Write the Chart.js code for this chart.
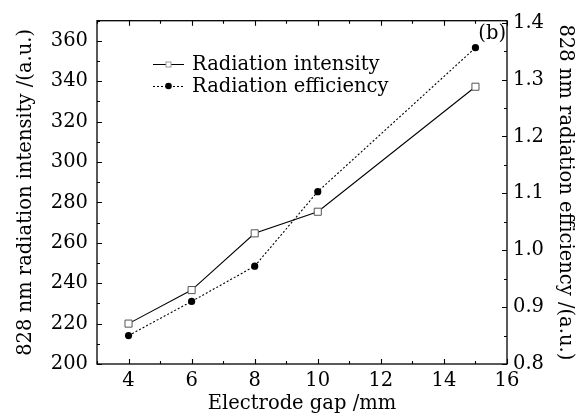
<!DOCTYPE html>
<html>
<head>
<meta charset="utf-8">
<script src="https://cdn.jsdelivr.net/npm/chart.js@4/dist/chart.umd.min.js"></script>
<style>
  html, body { margin: 0; padding: 0; background: #fff; }
  #wrap { width: 581px; height: 416px; position: relative; }
</style>
</head>
<body>
<div id="wrap"><canvas id="c" width="581" height="416"></canvas></div>
<script>
const gaps = [4, 6, 8, 10, 15];
const intensity = [220, 236.6, 264.7, 275.4, 337.3];
const efficiency = [0.850, 0.910, 0.972, 1.103, 1.356];
const seriesNames = ['Radiation intensity', 'Radiation efficiency'];
const xTickValues = [4, 6, 8, 10, 12, 14, 16];
const yLeftTickValues = [200, 220, 240, 260, 280, 300, 320, 340, 360];
const yRightTickValues = [0.8, 0.9, 1.0, 1.1, 1.2, 1.3, 1.4];
const xTitle = 'Electrode gap /mm';
const yLeftTitle = '828 nm radiation intensity /(a.u.)';
const yRightTitle = '828 nm radiation efficiency /(a.u.)';
const panelLabel = '(b)';

const FONT = "'DejaVu Serif', serif";
const TXT = 19.5;

const tickPlugin = {
  id: 'inTicks',
  afterDraw(chart) {
    const ctx = chart.ctx;
    const a = chart.chartArea;
    const sx = chart.scales.x, sy = chart.scales.y, sr = chart.scales.y1;
    ctx.save();
    ctx.strokeStyle = '#000';
    ctx.lineWidth = 1.3;
    ctx.strokeRect(a.left, a.top, a.right - a.left, a.bottom - a.top);
    ctx.lineWidth = 1.1;
    ctx.beginPath();
    for (let v = 3; v <= 16; v += 1) {
      const px = Math.round(sx.getPixelForValue(v)) + 0.5;
      const len = xTickValues.includes(v) ? 5 : 3;
      ctx.moveTo(px, a.bottom); ctx.lineTo(px, a.bottom - len);
      ctx.moveTo(px, a.top); ctx.lineTo(px, a.top + len);
    }
    for (let v = 200; v <= 370; v += 10) {
      const py = Math.round(sy.getPixelForValue(v)) + 0.5;
      const len = yLeftTickValues.includes(v) ? 5 : 3;
      ctx.moveTo(a.left, py); ctx.lineTo(a.left + len, py);
    }
    for (let i = 0; i <= 12; i++) {
      const v = 0.8 + i * 0.05;
      const py = Math.round(sr.getPixelForValue(v)) + 0.5;
      const len = (i % 2 === 0) ? 5 : 3;
      ctx.moveTo(a.right, py); ctx.lineTo(a.right - len, py);
    }
    ctx.stroke();

    const ds = chart.data.datasets;
    const lx0 = 153, lx1 = 184, tx = 192;
    const rows = [64, 86];
    ctx.font = TXT + "px " + FONT;
    ctx.fillStyle = '#000';
    ctx.textBaseline = 'middle';
    ds.forEach((d, i) => {
      const y = rows[i];
      ctx.save();
      ctx.strokeStyle = '#000';
      ctx.lineWidth = 1;
      ctx.setLineDash(d.borderDash || []);
      ctx.beginPath();
      ctx.moveTo(lx0, y + 0.5); ctx.lineTo(lx1, y + 0.5);
      ctx.stroke();
      ctx.restore();
      const cx = (lx0 + lx1) / 2;
      if (d.pointStyle === 'rect') {
        ctx.fillStyle = '#fff';
        ctx.fillRect(cx - 2.5, y - 2.5, 5, 5);
        ctx.strokeStyle = '#999';
        ctx.lineWidth = 1;
        ctx.strokeRect(cx - 2.5, y - 2, 5, 5);
      } else {
        ctx.fillStyle = '#000';
        ctx.beginPath(); ctx.arc(cx, y, 3.3, 0, Math.PI * 2); ctx.fill();
      }
      ctx.fillStyle = '#000';
      ctx.fillText(d.label, tx, y + 1);
    });
    ctx.textAlign = 'right';
    ctx.fillText(panelLabel, a.right - 1, a.top + 13);
    ctx.restore();
  }
};

const tickFont = { family: FONT, size: TXT };
const titleFont = { family: FONT, size: TXT };

new Chart(document.getElementById('c'), {
  type: 'line',
  data: {
    datasets: [
      {
        label: seriesNames[0],
        data: gaps.map((g, i) => ({ x: g, y: intensity[i] })),
        yAxisID: 'y',
        borderColor: '#000',
        borderWidth: 1.1,
        pointStyle: 'rect',
        pointRadius: 5,
        pointBackgroundColor: '#fff',
        pointBorderColor: '#555',
        pointBorderWidth: 1,
        tension: 0
      },
      {
        label: seriesNames[1],
        data: gaps.map((g, i) => ({ x: g, y: efficiency[i] })),
        yAxisID: 'y1',
        borderColor: '#000',
        borderWidth: 1.1,
        borderDash: [2, 2],
        pointStyle: 'circle',
        pointRadius: 3.6,
        pointBackgroundColor: '#000',
        pointBorderColor: '#000',
        pointBorderWidth: 0,
        tension: 0
      }
    ]
  },
  options: {
    responsive: false,
    animation: false,
    devicePixelRatio: 1,
    layout: { padding: { top: 16, left: 0, right: 0, bottom: 0 } },
    plugins: { legend: { display: false }, tooltip: { enabled: false } },
    scales: {
      x: {
        type: 'linear', min: 3, max: 16,
        border: { display: false },
        grid: { display: false, drawTicks: false },
        afterBuildTicks: s => { s.ticks = xTickValues.map(v => ({ value: v })); },
        ticks: { padding: 5, color: '#000', font: tickFont, maxRotation: 0, autoSkip: false,
          callback: v => String(v) },
        title: { display: true, text: xTitle, color: '#000', font: titleFont, padding: { top: 0, bottom: 0 } },
        afterFit: s => { s.height = 52; }
      },
      y: {
        type: 'linear', position: 'left', min: 200, max: 370,
        border: { display: false },
        grid: { display: false, drawTicks: false },
        afterBuildTicks: s => { s.ticks = yLeftTickValues.map(v => ({ value: v })); },
        ticks: { padding: 9, color: '#000', font: tickFont, autoSkip: false, callback: v => String(v) },
        title: { display: true, text: yLeftTitle, color: '#000', font: titleFont, padding: { top: 14, bottom: 0 } },
        afterFit: s => { s.width = 97; }
      },
      y1: {
        type: 'linear', position: 'right', min: 0.8, max: 1.4035,
        border: { display: false },
        grid: { display: false, drawTicks: false },
        afterBuildTicks: s => { s.ticks = yRightTickValues.map(v => ({ value: v })); },
        ticks: { padding: 6, color: '#000', font: tickFont, autoSkip: false, callback: v => v.toFixed(1) },
        title: { display: true, text: yRightTitle, color: '#000', font: titleFont, padding: { top: 4, bottom: 0 } },
        afterFit: s => { s.width = 74; }
      }
    }
  },
  plugins: [tickPlugin]
});
</script>
</body>
</html>
